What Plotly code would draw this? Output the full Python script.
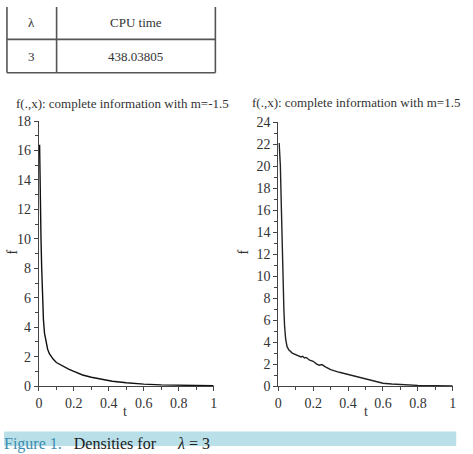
import plotly.graph_objects as go

W, H = 473, 454

# Table content
table_header = ["λ", "CPU time"]
table_row = ["3", "438.03805"]

# Left panel: m = -1.5
t_left = [0.004, 0.006, 0.009, 0.012, 0.016, 0.020, 0.026, 0.032, 0.041, 0.050, 0.060,
          0.080, 0.100, 0.130, 0.170, 0.200, 0.250, 0.300, 0.360, 0.420, 0.500, 0.550,
          0.600, 0.700, 0.800, 0.900, 1.000]
f_left = [16.4, 14.0, 12.0, 10.0, 8.0, 6.0, 4.5, 3.6, 2.9, 2.5, 2.2,
          1.85, 1.6, 1.4, 1.15, 1.0, 0.75, 0.6, 0.45, 0.33, 0.22, 0.17,
          0.13, 0.08, 0.05, 0.03, 0.02]

# Right panel: m = 1.5
t_right = [0.005, 0.012, 0.018, 0.023, 0.028, 0.032, 0.036, 0.042, 0.050, 0.060, 0.080,
           0.100, 0.120, 0.130, 0.140, 0.150, 0.160, 0.180, 0.200, 0.220, 0.235, 0.250,
           0.270, 0.300, 0.350, 0.400, 0.450, 0.500, 0.550, 0.600, 0.650, 0.700, 0.800,
           0.900, 1.000]
f_right = [22.1, 20.0, 16.0, 12.0, 9.0, 7.0, 5.5, 4.3, 3.6, 3.3, 3.0,
           2.85, 2.75, 2.65, 2.7, 2.55, 2.6, 2.35, 2.25, 2.0, 1.9, 1.95,
           1.75, 1.5, 1.25, 1.05, 0.85, 0.65, 0.42, 0.25, 0.18, 0.12, 0.06,
           0.03, 0.01]

titles = ["f(.,x): complete information with m=-1.5", "f(.,x): complete information with m=1.5"]
y_ranges = [[0, 18], [0, 24]]
x_tick_vals = [0, 0.2, 0.4, 0.6, 0.8, 1]
x_tick_text = ["0", "0.2", "0.4", "0.6", "0.8", "1"]
caption_parts = ("Figure 1.", "Densities for", "<i>λ</i> = 3")

FONT = "Liberation Serif"

def px(x):
    return x / W

def py(y):
    return 1 - y / H

fig = go.Figure()
fig.add_trace(go.Scatter(x=t_left, y=f_left, mode="lines", line=dict(color="#111", width=1.4),
                         xaxis="x", yaxis="y", showlegend=False, hoverinfo="skip"))
fig.add_trace(go.Scatter(x=t_right, y=f_right, mode="lines", line=dict(color="#222", width=1.4),
                         xaxis="x2", yaxis="y2", showlegend=False, hoverinfo="skip"))

# caption text on a full-page overlay axis (pixel units) so it is clipped by the page edge
cap_x = [0, 71, 177]
cap_colors = ["#3a8db0", "#222", "#222"]
for cx, s, c in zip(cap_x, caption_parts, cap_colors):
    fig.add_trace(go.Scatter(x=[cx], y=[452.5], mode="text", text=[s], textposition="middle right",
                             textfont=dict(family=FONT, size=16, color=c), cliponaxis=False,
                             xaxis="x3", yaxis="y3", showlegend=False, hoverinfo="skip"))

axis_common = dict(showline=True, linecolor="#444", linewidth=1.2, ticks="outside",
                   tickcolor="#444", ticklen=4, tickwidth=1, showgrid=False, zeroline=False,
                   tickfont=dict(family=FONT, size=14, color="#333"), fixedrange=True)

xdom_l = [px(35.5), px(213.3)]
xdom_r = [px(279), px(456.5)]
ydom_l = [py(392), py(118)]
ydom_r = [py(392), py(119)]

hidden = dict(visible=False, showgrid=False, zeroline=False, fixedrange=True)

fig.update_layout(
    width=W, height=H, margin=dict(l=0, r=0, t=0, b=0),
    paper_bgcolor="white", plot_bgcolor="rgba(0,0,0,0)",
    font=dict(family=FONT),
    xaxis=dict(domain=xdom_l, range=[0, 1], anchor="y", tickvals=x_tick_vals, ticktext=x_tick_text,
               minor=dict(dtick=0.1, ticks="outside", ticklen=3, tickcolor="#444"), **axis_common),
    yaxis=dict(domain=ydom_l, range=y_ranges[0], anchor="x", dtick=2,
               minor=dict(dtick=1, ticks="outside", ticklen=3, tickcolor="#444"), **axis_common),
    xaxis2=dict(domain=xdom_r, range=[0, 1], anchor="y2", tickvals=x_tick_vals, ticktext=x_tick_text,
                minor=dict(dtick=0.1, ticks="outside", ticklen=3, tickcolor="#444"), **axis_common),
    yaxis2=dict(domain=ydom_r, range=y_ranges[1], anchor="x2", dtick=2,
                minor=dict(dtick=1, ticks="outside", ticklen=3, tickcolor="#444"), **axis_common),
    xaxis3=dict(domain=[0, 1], range=[0, W], anchor="y3", **hidden),
    yaxis3=dict(domain=[0, 1], range=[H, 0], anchor="x3", **hidden),
)

shapes = []
# table lines
lc = "#555"
for x in (3, 53.5, 215):
    shapes.append(dict(type="line", xref="paper", yref="paper", x0=px(x), x1=px(x), y0=py(0), y1=py(68),
                       line=dict(color=lc, width=1.6)))
for y in (33.5, 68):
    shapes.append(dict(type="line", xref="paper", yref="paper", x0=px(3), x1=px(215), y0=py(y), y1=py(y),
                       line=dict(color=lc, width=1.6)))
# caption band
shapes.append(dict(type="rect", xref="paper", yref="paper", x0=px(0), x1=px(460), y0=py(439), y1=py(454),
                   fillcolor="#b9dfe9", line=dict(width=0), layer="below"))
fig.update_layout(shapes=shapes)

ann = []
def text(x, y, s, size=12, color="#333", xanchor="center", yanchor="middle", angle=0):
    ann.append(dict(xref="paper", yref="paper", x=px(x), y=py(y), text=s, showarrow=False,
                    xanchor=xanchor, yanchor=yanchor, textangle=angle,
                    font=dict(family=FONT, size=size, color=color)))

# table text
text(28, 16, table_header[0], 13)
text(134, 16, table_header[1], 13)
text(28, 51, table_row[0], 13)
text(134, 51, table_row[1], 13)
# titles
text(121, 100, titles[0], 13)
text(358, 99, titles[1], 13)
# axis labels
text(9, 253, "f", 14, angle=-90)
text(244, 253, "f", 14, angle=-90)
text(123, 418, "t", 14)
text(368, 418, "t", 14)
fig.update_layout(annotations=ann)

fig.write_html("out.html")
